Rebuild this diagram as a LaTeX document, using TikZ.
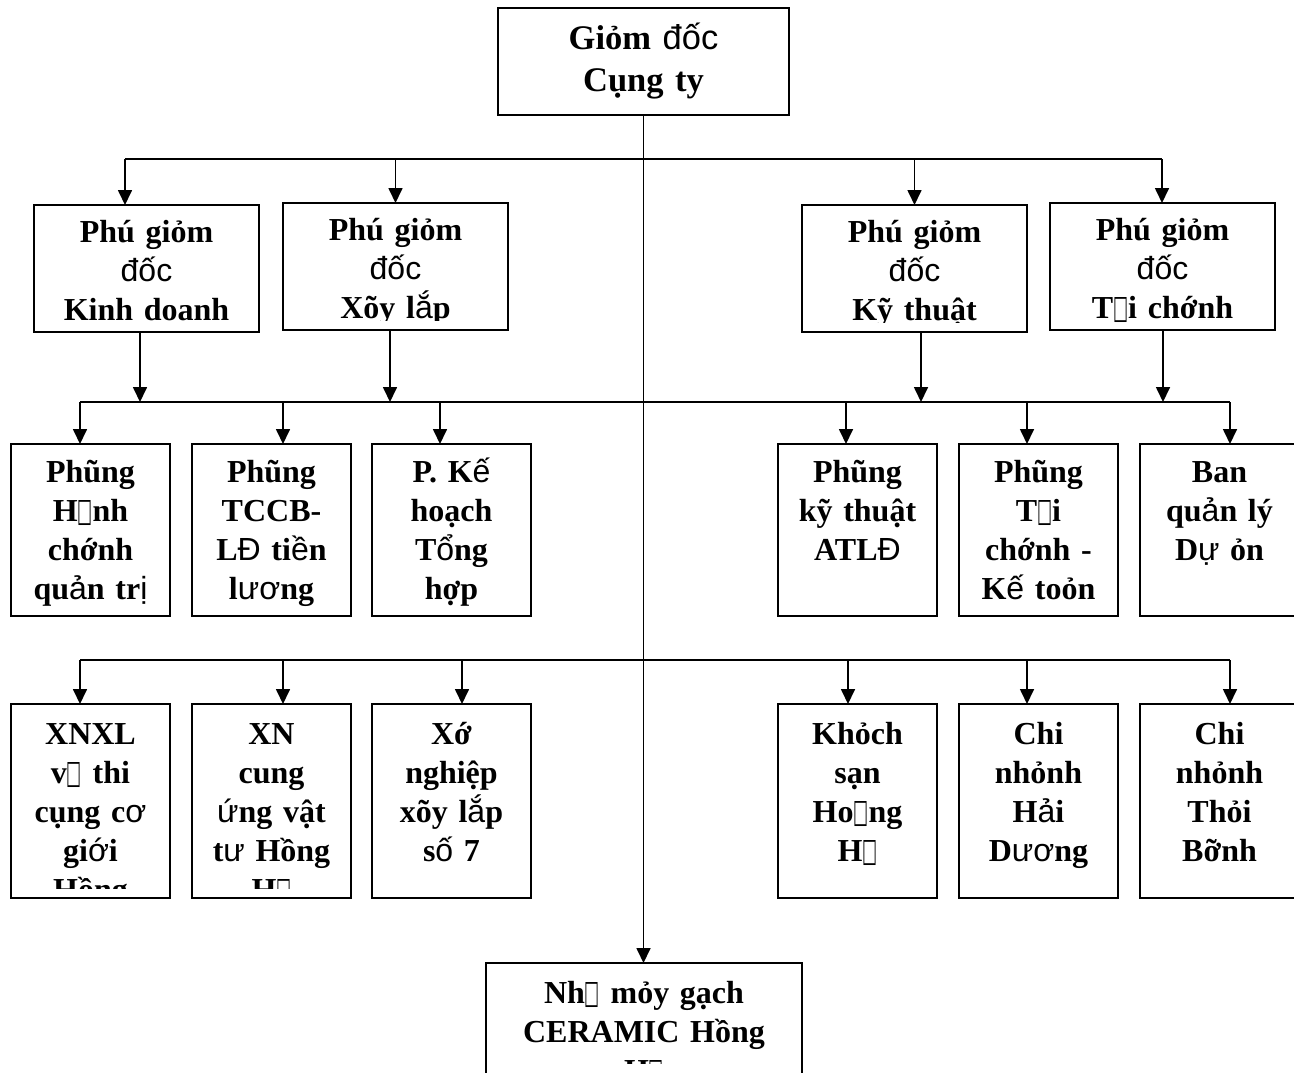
\documentclass[tikz,border=0pt]{standalone}
\usepackage{fontspec}
\setmainfont{Liberation Serif}
\newfontfamily\fbfont{Liberation Sans}
\newfontfamily\nogfont{DejaVu Sans}
\usetikzlibrary{arrows.meta}
\newcommand\fb[1]{{\fbfont\mdseries #1}}
\newcommand\nog{\resizebox{15pt}{21pt}{\nogfont\mdseries □}}

\begin{document}
\begin{tikzpicture}[x=1pt,y=-1pt,
  unit/.style={draw, line width=2pt, anchor=north west, inner sep=0pt, outer sep=0pt},
  head/.style={unit, minimum width=291pt, minimum height=107pt},
  deputy/.style={unit, minimum width=225pt, minimum height=127pt},
  office/.style={unit, minimum width=159pt, minimum height=172pt},
  branch/.style={unit, minimum width=159pt, minimum height=194pt},
  caption/.style={anchor=base, align=center, inner sep=0pt, text width=#1,
    font=\fontsize{32}{39}\selectfont\bfseries},
  caption/.default=150pt,
  bigcaption/.style={caption=280pt, font=\fontsize{34.5}{42}\selectfont\bfseries},
  link/.style={line width=1.7pt},
  arrow/.style={link, -{Triangle[length=15pt,width=14pt]}}]

\useasboundingbox (0,0) rectangle (1294,1072);
\clip (0,0) rectangle (1294,1072);

% Director
\node [head] (boss) at (498,8) {};
\node [bigcaption] (boss-t) at ([yshift=-41pt]boss.north) {Giỏm \fb{đốc}\\Cụng ty};

% Row 1
\node [deputy] (kd) at (34,205) {};
\node [deputy] (xl) at (283,203) {};
\node [deputy] (kt) at (802,205) {};
\node [deputy] (tc) at (1050,203) {};
\node [caption=215pt] (kd-t) at ([yshift=-37pt]kd.north) {Phú giỏm\\\fb{đốc}\\Kinh doanh};
\begin{scope}
\clip ([yshift=10pt]xl.south west) rectangle (xl.north east);
\node [caption=215pt] (xl-t) at ([yshift=-37pt]xl.north) {Phú giỏm\\\fb{đốc}\\Xõy l\fb{ắ}p};
\end{scope}
\begin{scope}
\clip ([yshift=10pt]kt.south west) rectangle (kt.north east);
\node [caption=215pt] (kt-t) at ([yshift=-37pt]kt.north) {Phú giỏm\\\fb{đốc}\\Kỹ thuật};
\end{scope}
\node [caption=215pt] (tc-t) at ([yshift=-37pt]tc.north) {Phú giỏm\\\fb{đốc}\\T\nog i chớnh};

% Row 2
\node [office] (hc) at (11,444) {};
\node [office] (tccb) at (192,444) {};
\node [office] (kh) at (372,444) {};
\node [office] (ktat) at (778,444) {};
\node [office] (tckt) at (959,444) {};
\node [office, minimum width=180pt] (bqda) at (1140,444) {};
\node [caption] (hc-t) at ([yshift=-38pt]hc.north) {Phũng\\H\nog nh\\chớnh\\qu\fb{ả}n tr\fb{ị}};
\node [caption] (tccb-t) at ([yshift=-38pt]tccb.north) {Phũng\\TCCB-\\L\fb{Đ} ti\fb{ề}n\\l\fb{ươ}ng};
\node [caption] (kh-t) at ([yshift=-38pt]kh.north) {P. K\fb{ế}\\hoạch\\T\fb{ổ}ng\\hợp};
\node [caption] (ktat-t) at ([yshift=-38pt]ktat.north) {Phũng\\kỹ thuật\\ATL\fb{Đ}};
\node [caption] (tckt-t) at ([yshift=-38pt]tckt.north) {Phũng\\T\nog i\\chớnh -\\K\fb{ế} toỏn};
\node [caption] (bqda-t) at ([xshift=-10.5pt,yshift=-38pt]bqda.north) {Ban\\qu\fb{ả}n lý\\D\fb{ự} ỏn};

% Row 3
\node [branch] (xnxl) at (11,704) {};
\node [branch] (xncu) at (192,704) {};
\node [branch] (xn7) at (372,704) {};
\node [branch] (ks) at (778,704) {};
\node [branch] (hd) at (959,704) {};
\node [branch, minimum width=180pt] (tb) at (1140,704) {};
\begin{scope}
\clip ([yshift=10pt]xnxl.south west) rectangle (xnxl.north east);
\node [caption] (xnxl-t) at ([yshift=-40pt]xnxl.north) {XNXL\\v\nog{} thi\\cụng c\fb{ơ}\\gi\fb{ớ}i\\Hồng};
\end{scope}
\begin{scope}
\clip ([yshift=10pt]xncu.south west) rectangle (xncu.north east);
\node [caption] (xncu-t) at ([yshift=-40pt]xncu.north) {XN\\cung\\\fb{ứ}ng vật\\t\fb{ư} Hồng\\H\nog};
\end{scope}
\node [caption] (xn7-t) at ([yshift=-40pt]xn7.north) {Xớ\\nghiệp\\xõy l\fb{ắ}p\\s\fb{ố} 7};
\node [caption] (ks-t) at ([yshift=-40pt]ks.north) {Khỏch\\sạn\\Ho\nog ng\\H\nog};
\node [caption] (hd-t) at ([yshift=-40pt]hd.north) {Chi\\nhỏnh\\H\fb{ả}i\\D\fb{ươ}ng};
\node [caption] (tb-t) at ([xshift=-10.5pt,yshift=-40pt]tb.north) {Chi\\nhỏnh\\Thỏi\\Bỡnh};

% Factory
\node [unit, minimum width=316pt, minimum height=150pt] (plant) at (486,963) {};
\begin{scope}
\clip (plant.north west) rectangle (802,1063);
\node [caption=300pt] (plant-t) at ([yshift=-40pt]plant.north) {Nh\nog{} mỏy gạch\\CERAMIC Hồng\\H\nog};
\end{scope}

% Connectors
\draw[arrow] (boss.south) -- (boss.south |- plant.north);

\coordinate (bus1w) at (125,159);
\coordinate (bus1e) at (1162,159);
\draw[link] (bus1w) -- (bus1e);
\draw[arrow] (bus1w) -- (bus1w |- kd.north);
\draw[arrow] (xl.north |- bus1w) -- (xl.north);
\draw[arrow] (kt.north |- bus1w) -- (kt.north);
\draw[arrow] (bus1e) -- (bus1e |- tc.north);

\coordinate (bus2w) at (80,402);
\coordinate (bus2e) at (1230,402);
\draw[link] (bus2w) -- (bus2e);
\foreach \x/\n in {140/kd, 390/xl, 921/kt, 1163/tc}
  \draw[arrow] (\n.south -| \x,0) -- (bus2w -| \x,0);
\foreach \x/\n in {80/hc, 283/tccb, 440/kh, 846/ktat, 1027/tckt, 1230/bqda}
  \draw[arrow] (bus2w -| \x,0) -- (\n.north -| \x,0);

\coordinate (bus3w) at (80,660);
\coordinate (bus3e) at (1230,660);
\draw[link] (bus3w) -- (bus3e);
\foreach \x/\n in {80/xnxl, 283/xncu, 462/xn7, 848/ks, 1027/hd, 1230/tb}
  \draw[arrow] (bus3w -| \x,0) -- (\n.north -| \x,0);

\end{tikzpicture}
\end{document}
